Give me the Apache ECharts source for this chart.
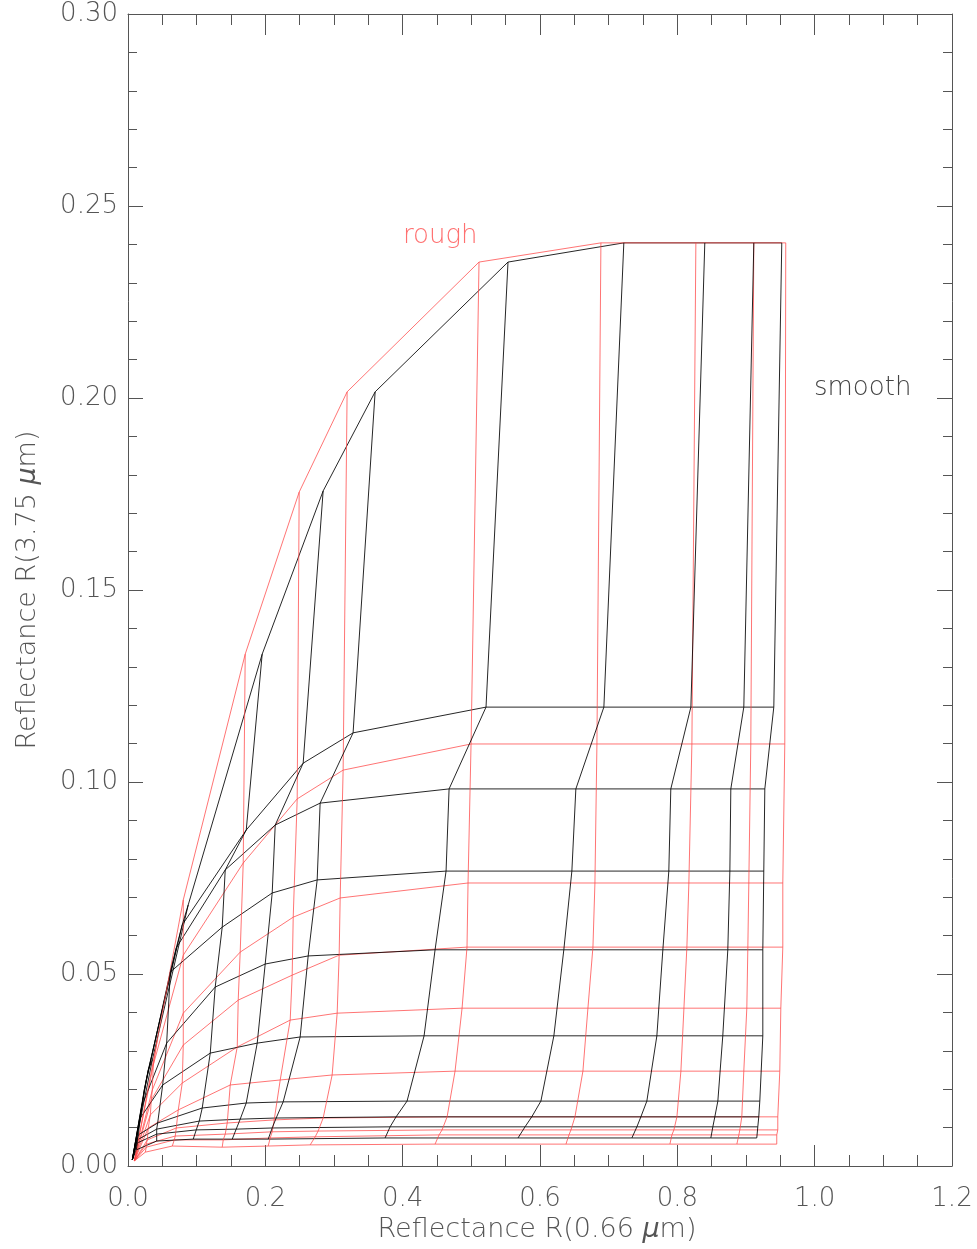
<!DOCTYPE html>
<html><head><meta charset="utf-8">
<script src="https://cdn.jsdelivr.net/npm/echarts@6/dist/echarts.min.js"></script>
<style>html,body{margin:0;padding:0;background:#fff}#c{width:977px;height:1249px}</style>
</head><body><div id="c"></div>
<script>
// Smooth (black) grid: rows = constant effective radius, cols = optical thickness
const smoothR066 = [
  [0.0063, 0.0354, 0.0877, 0.1954, 0.2842, 0.3599, 0.5534, 0.7221, 0.8400, 0.9114, 0.9521],
  [0.0063, 0.0295, 0.0790, 0.1722, 0.2551, 0.3278, 0.5214, 0.6930, 0.8197, 0.8968, 0.9405],
  [0.0063, 0.0266, 0.0703, 0.1416, 0.2144, 0.2798, 0.4676, 0.6522, 0.7905, 0.8779, 0.9274],
  [0.0063, 0.0237, 0.0616, 0.1372, 0.2100, 0.2755, 0.4632, 0.6464, 0.7876, 0.8765, 0.9259],
  [0.0063, 0.0208, 0.0563, 0.1270, 0.1998, 0.2624, 0.4472, 0.6347, 0.7789, 0.8735, 0.9245],
  [0.0063, 0.0179, 0.0505, 0.1198, 0.1882, 0.2507, 0.4312, 0.6202, 0.7702, 0.8662, 0.9245],
  [0.0063, 0.0150, 0.0432, 0.1081, 0.1722, 0.2260, 0.4064, 0.6013, 0.7556, 0.8590, 0.9201],
  [0.0063, 0.0135, 0.0418, 0.1038, 0.1634, 0.2158, 0.3904, 0.5880, 0.7469, 0.8546, 0.9186],
  [0.0063, 0.0135, 0.0418, 0.0994, 0.1576, 0.2100, 0.3817, 0.5782, 0.7411, 0.8517, 0.9172],
  [0.0063, 0.0121, 0.0418, 0.0950, 0.1518, 0.2042, 0.3744, 0.5680, 0.7338, 0.8488, 0.9157]
];
const smoothR375 = [
  [0.0016, 0.0276, 0.0680, 0.1333, 0.1758, 0.2016, 0.2354, 0.2404, 0.2404, 0.2404, 0.2404],
  [0.0016, 0.0250, 0.0628, 0.0875, 0.1049, 0.1128, 0.1195, 0.1195, 0.1195, 0.1195, 0.1195],
  [0.0016, 0.0224, 0.0568, 0.0771, 0.0888, 0.0945, 0.0982, 0.0982, 0.0982, 0.0982, 0.0982],
  [0.0016, 0.0198, 0.0505, 0.0622, 0.0711, 0.0745, 0.0768, 0.0768, 0.0768, 0.0768, 0.0768],
  [0.0016, 0.0159, 0.0320, 0.0466, 0.0526, 0.0547, 0.0563, 0.0563, 0.0563, 0.0563, 0.0563],
  [0.0016, 0.0125, 0.0211, 0.0294, 0.0320, 0.0336, 0.0339, 0.0339, 0.0339, 0.0339, 0.0339],
  [0.0016, 0.0081, 0.0112, 0.0151, 0.0164, 0.0167, 0.0169, 0.0169, 0.0169, 0.0169, 0.0169],
  [0.0016, 0.0068, 0.0096, 0.0117, 0.0122, 0.0125, 0.0128, 0.0128, 0.0128, 0.0128, 0.0128],
  [0.0016, 0.0060, 0.0083, 0.0094, 0.0096, 0.0099, 0.0102, 0.0102, 0.0102, 0.0102, 0.0102],
  [0.0016, 0.0042, 0.0065, 0.0070, 0.0070, 0.0070, 0.0073, 0.0073, 0.0073, 0.0073, 0.0073]
];
// Rough (red) grid
const roughR066 = [
  [0.0092, 0.0427, 0.0805, 0.1707, 0.2493, 0.3191, 0.5112, 0.6887, 0.8270, 0.9114, 0.9579],
  [0.0092, 0.0368, 0.0805, 0.1678, 0.2464, 0.3133, 0.4996, 0.6829, 0.8212, 0.9070, 0.9565],
  [0.0092, 0.0354, 0.0805, 0.1634, 0.2406, 0.3090, 0.4952, 0.6800, 0.8168, 0.9041, 0.9536],
  [0.0092, 0.0339, 0.0805, 0.1605, 0.2391, 0.3075, 0.4937, 0.6771, 0.8139, 0.9027, 0.9536],
  [0.0092, 0.0325, 0.0790, 0.1591, 0.2362, 0.3046, 0.4865, 0.6698, 0.8096, 0.9012, 0.9507],
  [0.0092, 0.0295, 0.0732, 0.1489, 0.2217, 0.2973, 0.4763, 0.6625, 0.8052, 0.8968, 0.9492],
  [0.0092, 0.0281, 0.0703, 0.1445, 0.2129, 0.2842, 0.4647, 0.6509, 0.7994, 0.8939, 0.9463],
  [0.0092, 0.0266, 0.0688, 0.1416, 0.2100, 0.2769, 0.4574, 0.6451, 0.7950, 0.8910, 0.9463],
  [0.0092, 0.0266, 0.0674, 0.1387, 0.2071, 0.2726, 0.4530, 0.6422, 0.7921, 0.8896, 0.9448],
  [0.0092, 0.0252, 0.0645, 0.1372, 0.2042, 0.2653, 0.4472, 0.6378, 0.7892, 0.8867, 0.9448]
];
const roughR375 = [
  [0.0013, 0.0328, 0.0693, 0.1333, 0.1755, 0.2016, 0.2354, 0.2404, 0.2404, 0.2404, 0.2404],
  [0.0013, 0.0263, 0.0549, 0.0789, 0.0956, 0.1031, 0.1099, 0.1099, 0.1099, 0.1099, 0.1099],
  [0.0013, 0.0198, 0.0398, 0.0557, 0.0648, 0.0698, 0.0737, 0.0737, 0.0737, 0.0737, 0.0737],
  [0.0013, 0.0172, 0.0315, 0.0432, 0.0497, 0.0549, 0.0570, 0.0570, 0.0570, 0.0570, 0.0570],
  [0.0013, 0.0133, 0.0216, 0.0310, 0.0380, 0.0398, 0.0411, 0.0411, 0.0411, 0.0411, 0.0411],
  [0.0013, 0.0099, 0.0146, 0.0211, 0.0224, 0.0237, 0.0247, 0.0247, 0.0247, 0.0247, 0.0247],
  [0.0013, 0.0068, 0.0099, 0.0112, 0.0120, 0.0125, 0.0128, 0.0128, 0.0128, 0.0128, 0.0128],
  [0.0013, 0.0057, 0.0078, 0.0083, 0.0089, 0.0091, 0.0094, 0.0094, 0.0094, 0.0094, 0.0094],
  [0.0013, 0.0049, 0.0068, 0.0068, 0.0073, 0.0076, 0.0081, 0.0081, 0.0081, 0.0081, 0.0081],
  [0.0013, 0.0036, 0.0052, 0.0049, 0.0052, 0.0055, 0.0057, 0.0057, 0.0057, 0.0057, 0.0057]
];
const xTickLabels = ['0.0','0.2','0.4','0.6','0.8','1.0','1.2'];
const yTickLabels = ['0.00','0.05','0.10','0.15','0.20','0.25','0.30'];

const RED = 'rgba(255,70,70,0.75)';
const BLACK = 'rgba(0,0,0,0.85)';
const FONT = 'DejaVu Sans';
const GREY = '#555';

function gridSeries(X, Y, color, topRowZ) {
  const out = [];
  for (let j = 0; j < X.length; j++) {
    out.push({type:'line', symbol:'none', silent:true, animation:false,
      z: (j === 0 && topRowZ) ? topRowZ : 2,
      lineStyle:{color, width:1}, data: X[j].map((x,i)=>[x, Y[j][i]])});
  }
  for (let i = 1; i < X[0].length; i++) {
    out.push({type:'line', symbol:'none', silent:true, animation:false,
      lineStyle:{color, width:1}, data: X.map((row,j)=>[row[i], Y[j][i]])});
  }
  return out;
}

const chart = echarts.init(document.getElementById('c'), null, {renderer:'canvas'});
function ax(extra) {
  return Object.assign({
    type:'value',
    axisLine:{show:true, onZero:false, lineStyle:{color:GREY, width:1}},
    splitLine:{show:false}
  }, extra);
}
const xTick = {inside:true, length:21, lineStyle:{color:GREY}};
const xMinor = {show:true, splitNumber:4, length:11, lineStyle:{color:GREY}};
const yTick = {inside:true, length:15, lineStyle:{color:GREY}};
const yMinor = {show:true, splitNumber:5, length:9, lineStyle:{color:GREY}};
chart.setOption({
  backgroundColor:'#fff',
  animation:false,
  grid:{left:128, right:25, top:14, bottom:83, show:false},
  xAxis:[
    ax({min:0, max:1.2, interval:0.2, position:'bottom', axisTick:xTick, minorTick:xMinor,
      axisLabel:{margin:20, fontSize:26, color:GREY, fontFamily:FONT, fontWeight:200,
        formatter:v=>xTickLabels[Math.round(v/0.2)]}}),
    ax({min:0, max:1.2, interval:0.2, position:'top', axisTick:xTick, minorTick:xMinor,
      axisLabel:{show:false}})
  ],
  yAxis:[
    ax({min:0, max:0.30, interval:0.05, position:'left', axisTick:yTick, minorTick:yMinor,
      axisLabel:{margin:10, fontSize:26, color:GREY, fontFamily:FONT, fontWeight:200,
        formatter:v=>yTickLabels[Math.round(v/0.05)]}}),
    ax({min:0, max:0.30, interval:0.05, position:'right', axisTick:yTick, minorTick:yMinor,
      axisLabel:{show:false}})
  ],
  series: gridSeries(roughR066, roughR375, RED, 3).concat(gridSeries(smoothR066, smoothR375, BLACK, 0)),
  graphic:[
    {type:'text', left:403, top:223, style:{text:'rough', fill:'#ff7070', font:'200 26px "DejaVu Sans"'}},
    {type:'text', left:814, top:375, style:{text:'smooth', fill:'#444', font:'200 26px "DejaVu Sans"'}},
    {type:'text', x:537, y:1230, style:{text:'Reflectance R(0.66 {i|μ}m)', fill:GREY, align:'center', verticalAlign:'middle',
      font:'200 27px "DejaVu Sans"', rich:{i:{fontStyle:'italic', fontSize:27, fill:GREY, fontFamily:FONT, fontWeight:200}}}},
    {type:'text', x:28, y:590, rotation:Math.PI/2, style:{text:'Reflectance R(3.75 {i|μ}m)', fill:GREY, align:'center', verticalAlign:'middle',
      font:'200 27px "DejaVu Sans"', rich:{i:{fontStyle:'italic', fontSize:27, fill:GREY, fontFamily:FONT, fontWeight:200}}}}
  ]
});
</script></body></html>
